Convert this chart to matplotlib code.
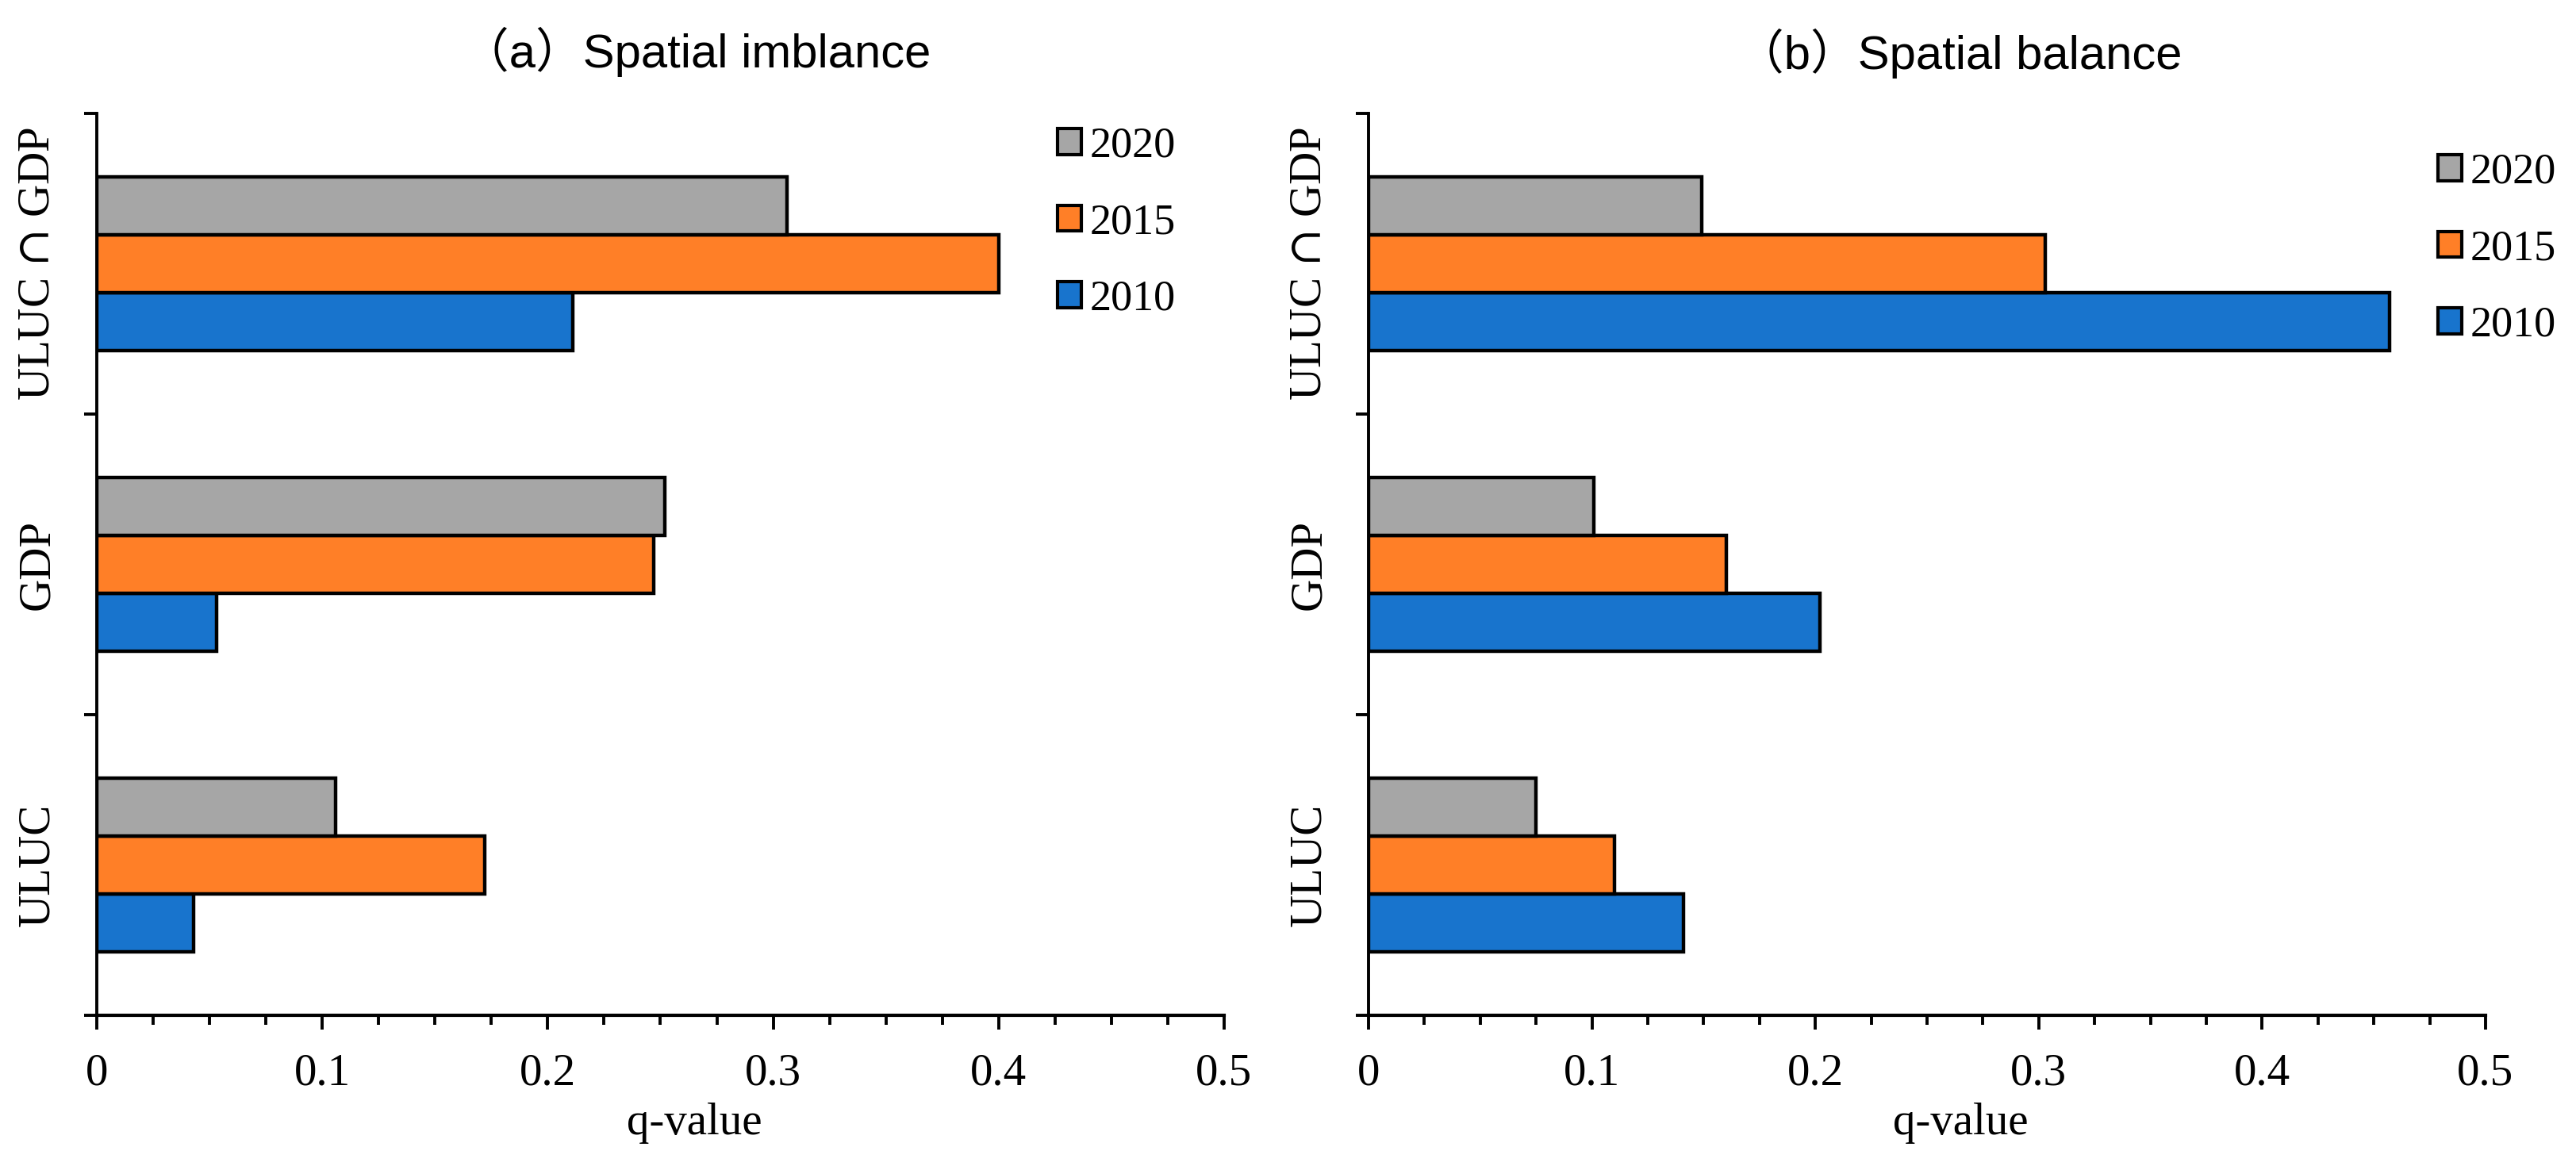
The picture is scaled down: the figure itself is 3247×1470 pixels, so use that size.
import matplotlib
matplotlib.use('Agg')
import matplotlib.pyplot as plt
from matplotlib.patches import Patch
from matplotlib.ticker import MultipleLocator, FixedLocator

# data
categories = ['ULUC', 'GDP', 'ULUC ∩ GDP']
years = ['2020', '2015', '2010']

imbalance_2010 = [0.043, 0.053, 0.211]
imbalance_2015 = [0.172, 0.247, 0.400]
imbalance_2020 = [0.106, 0.252, 0.306]

balance_2010 = [0.141, 0.202, 0.457]
balance_2015 = [0.110, 0.160, 0.303]
balance_2020 = [0.075, 0.101, 0.149]

titles = ['（a）Spatial imblance', '（b）Spatial balance']

colors = {'2020': '#A6A6A6', '2015': '#FF7F27', '2010': '#1874CD'}

serif = ['Liberation Serif', 'DejaVu Serif']
sans = ['Liberation Sans', 'Noto Sans CJK SC', 'DejaVu Sans']

# bigger intersection sign, drawn by the math renderer
plt.rcParams['mathtext.fontset'] = 'dejavuserif'

fig = plt.figure(figsize=(32.48, 14.70), dpi=100)

ax_a = fig.add_axes([0.03756, 0.12925, 0.43750, 0.77347])
ax_b = fig.add_axes([0.53109, 0.12925, 0.43350, 0.77347])

panels = [
    (ax_a, {'2020': imbalance_2020, '2015': imbalance_2015, '2010': imbalance_2010}),
    (ax_b, {'2020': balance_2020, '2015': balance_2015, '2010': balance_2010}),
]

bar_h = 0.193
offsets = {'2020': bar_h, '2015': 0.0, '2010': -bar_h}
ypos = list(range(len(categories)))
cat_labels = [c.replace('∩', r'$\cap$') for c in categories]

for ax, series in panels:
    for yr in ['2010', '2015', '2020']:
        ax.barh([y + offsets[yr] for y in ypos], series[yr], height=bar_h,
                color=colors[yr], edgecolor='black', linewidth=3.2, zorder=3)

    ax.set_xlim(0, 0.5)
    ax.set_ylim(-0.5, 2.5)
    for s in ['top', 'right']:
        ax.spines[s].set_visible(False)
    ax.spines['left'].set_linewidth(2.8)
    ax.spines['bottom'].set_linewidth(3.0)

    # x axis ticks
    ax.xaxis.set_minor_locator(MultipleLocator(0.025))
    ax.set_xticks([0, 0.1, 0.2, 0.3, 0.4, 0.5])
    ax.set_xticklabels(['0', '0.1', '0.2', '0.3', '0.4', '0.5'])
    ax.tick_params(axis='x', which='major', length=13, width=2.8, pad=21,
                   labelsize=41, direction='out')
    ax.tick_params(axis='x', which='minor', length=8.5, width=2.8, direction='out')

    # y axis: labels at category centres, tick marks at boundaries
    ax.set_yticks(ypos)
    ax.set_yticklabels(cat_labels, rotation=90, va='center')
    ax.yaxis.set_minor_locator(FixedLocator([-0.5, 0.5, 1.5, 2.5]))
    ax.tick_params(axis='y', which='major', length=0, pad=35, labelsize=41)
    ax.tick_params(axis='y', which='minor', length=11.5, width=2.8, direction='out')

    for lbl in ax.get_xticklabels() + ax.get_yticklabels():
        lbl.set_family(serif)

    ax.set_xlabel('q-value', family=serif, fontsize=41)
    ax.xaxis.set_label_coords(0.53, -0.097)

handles = [Patch(facecolor=colors[y], edgecolor='black', linewidth=3.0, label=y) for y in years]

legend_pos = [(0.4104, 0.8088), (0.9461, 0.7864)]
for (ax, _), (lx, ly) in zip(panels, legend_pos):
    ax.legend(handles=handles, loc='center left', bbox_to_anchor=(lx, ly),
              bbox_transform=fig.transFigure, frameon=False,
              prop={'family': serif, 'size': 39},
              handlelength=0.55, handleheight=0.55, handletextpad=0.2,
              labelspacing=0.85, borderpad=0, borderaxespad=0)

fig.text(0.2703, 0.9558, titles[0], ha='center', va='center', fontsize=43, family=sans)
fig.text(0.7605, 0.9544, titles[1], ha='center', va='center', fontsize=43, family=sans)

fig.savefig('out.png', dpi=100)
